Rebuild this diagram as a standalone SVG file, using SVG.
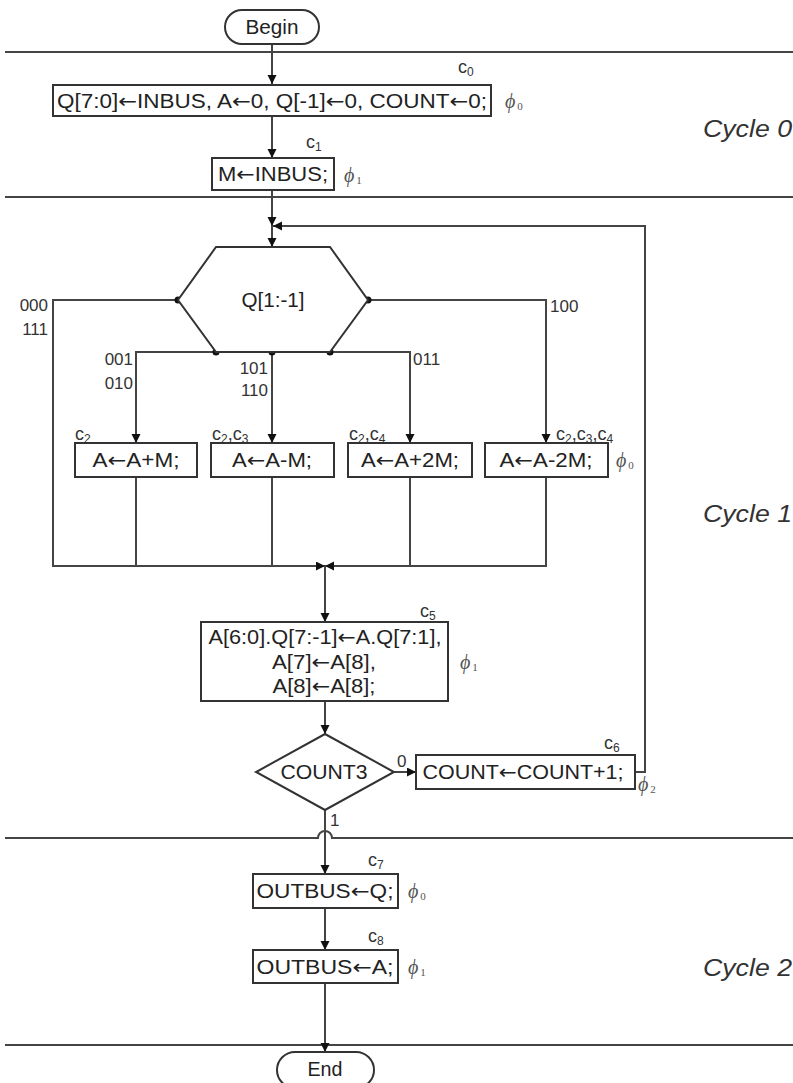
<svg xmlns="http://www.w3.org/2000/svg" width="793" height="1083" viewBox="0 0 793 1083">
<style>
.bg{fill:#fff}
.box{fill:#fff;stroke:#333;stroke-width:2}
.ln{fill:none;stroke:#444;stroke-width:2}
.sep{fill:none;stroke:#444;stroke-width:2}
.t{font-family:"Liberation Sans",Arial,sans-serif;font-size:20px;fill:#222;text-anchor:middle}
.ar{font-family:"DejaVu Sans",sans-serif}
.lbl{font-family:"Liberation Sans",Arial,sans-serif;font-size:17px;fill:#333}
.c{font-family:"Liberation Sans",Arial,sans-serif;font-size:18px;fill:#333}
.sub{font-size:12px}
.phi{font-family:"Liberation Serif","Times New Roman",serif;font-style:italic;font-size:20px;fill:#555}
.psub{font-style:normal;font-size:11px}
.cyc{font-family:"Liberation Sans",Arial,sans-serif;font-style:italic;font-size:24px;fill:#333}
.dot{fill:#111}
</style>
<defs>
<marker id="ah" markerWidth="10" markerHeight="10" refX="9" refY="4.5" orient="auto" markerUnits="userSpaceOnUse">
<path d="M0,0 L9,4.5 L0,9 z" fill="#111"/>
</marker>
</defs>
<rect class="bg" x="0" y="0" width="793" height="1083"/>

<g id="separators">
<path class="sep" d="M5,52 H793"/>
<path class="sep" d="M5,197 H793"/>
<path class="sep" d="M5,838 H318 A7,7 0 0 1 332,838 H793"/>
<path class="sep" d="M5,1045 H793"/>
<text class="cyc" x="703" y="137" textLength="89" lengthAdjust="spacingAndGlyphs">Cycle 0</text>
<text class="cyc" x="703" y="522" textLength="89" lengthAdjust="spacingAndGlyphs">Cycle 1</text>
<text class="cyc" x="703" y="976" textLength="89" lengthAdjust="spacingAndGlyphs">Cycle 2</text>
</g>

<g id="connectors">
<path class="ln" d="M272,44 V84" marker-end="url(#ah)"/>
<path class="ln" d="M272,116 V158" marker-end="url(#ah)"/>
<path class="ln" d="M272,190 V226" marker-end="url(#ah)"/>
<path class="ln" d="M272,226 V247" marker-end="url(#ah)"/>
<path class="ln" d="M635,772 H645 V226 H273" marker-end="url(#ah)"/>
<path class="ln" d="M178,300 H53 V566 H325" marker-end="url(#ah)"/>
<path class="ln" d="M368,300 H546 V443" marker-end="url(#ah)"/>
<path class="ln" d="M216,352 H136 V443" marker-end="url(#ah)"/>
<path class="ln" d="M216,352 H330"/>
<path class="ln" d="M272,352 V443" marker-end="url(#ah)"/>
<path class="ln" d="M330,352 H410 V443" marker-end="url(#ah)"/>
<path class="ln" d="M136,477 V566"/>
<path class="ln" d="M272,477 V566"/>
<path class="ln" d="M410,477 V566"/>
<path class="ln" d="M546,477 V566 H325" marker-end="url(#ah)"/>
<path class="ln" d="M325,566 V622" marker-end="url(#ah)"/>
<path class="ln" d="M325,701 V734" marker-end="url(#ah)"/>
<path class="ln" d="M394,772 H416" marker-end="url(#ah)"/>
<path class="ln" d="M325,810 V874" marker-end="url(#ah)"/>
<path class="ln" d="M325,908 V950" marker-end="url(#ah)"/>
<path class="ln" d="M325,983 V1052" marker-end="url(#ah)"/>
<circle class="dot" cx="178" cy="300" r="3.5"/>
<circle class="dot" cx="368" cy="300" r="3.5"/>
<circle class="dot" cx="216" cy="352" r="3.5"/>
<circle class="dot" cx="272" cy="352" r="3.5"/>
<circle class="dot" cx="330" cy="352" r="3.5"/>
<text class="lbl" x="48" y="311" text-anchor="end">000</text>
<text class="lbl" x="48" y="335" text-anchor="end">111</text>
<text class="lbl" x="133" y="365" text-anchor="end">001</text>
<text class="lbl" x="133" y="389" text-anchor="end">010</text>
<text class="lbl" x="268" y="374" text-anchor="end">101</text>
<text class="lbl" x="268" y="396" text-anchor="end">110</text>
<text class="lbl" x="413" y="365">011</text>
<text class="lbl" x="550" y="312">100</text>
<text class="lbl" x="397" y="767">0</text>
<text class="lbl" x="330" y="826">1</text>
</g>

<g id="begin">
<rect class="box" x="225" y="10" width="94" height="34" rx="17"/>
<text class="t" x="272" y="34" textLength="53" lengthAdjust="spacingAndGlyphs">Begin</text>
</g>

<g id="init">
<rect class="box" x="53" y="85" width="438" height="31"/>
<text class="t" x="272" y="108" textLength="430" lengthAdjust="spacingAndGlyphs">Q[7:0]<tspan class="ar">←</tspan>INBUS, A<tspan class="ar">←</tspan>0, Q[-1]<tspan class="ar">←</tspan>0, COUNT<tspan class="ar">←</tspan>0;</text>
<text class="c" x="458" y="73">c<tspan class="sub" dy="3">0</tspan></text>
<text class="phi" x="505" y="108">ϕ<tspan class="psub" dx="2" dy="2">0</tspan></text>
</g>

<g id="loadM">
<rect class="box" x="212" y="158" width="122" height="32"/>
<text class="t" x="273" y="181" textLength="110" lengthAdjust="spacingAndGlyphs">M<tspan class="ar">←</tspan>INBUS;</text>
<text class="c" x="306" y="148">c<tspan class="sub" dy="3">1</tspan></text>
<text class="phi" x="344" y="182">ϕ<tspan class="psub" dx="2" dy="2">1</tspan></text>
</g>

<g id="decision-q">
<polygon class="box" points="216,247 330,247 368,300 330,352 216,352 178,300"/>
<text class="t" x="273" y="307" textLength="63" lengthAdjust="spacingAndGlyphs">Q[1:-1]</text>
</g>

<g id="addM">
<rect class="box" x="75" y="443" width="122" height="34"/>
<text class="t" x="136" y="467" textLength="87" lengthAdjust="spacingAndGlyphs">A<tspan class="ar">←</tspan>A+M;</text>
<text class="c" x="75" y="440">c<tspan class="sub" dy="3">2</tspan></text>
</g>

<g id="subM">
<rect class="box" x="211" y="443" width="123" height="34"/>
<text class="t" x="272" y="467" textLength="80" lengthAdjust="spacingAndGlyphs">A<tspan class="ar">←</tspan>A-M;</text>
<text class="c" x="212" y="440">c<tspan class="sub" dy="3">2</tspan><tspan dy="-3">,c</tspan><tspan class="sub" dy="3">3</tspan></text>
</g>

<g id="add2M">
<rect class="box" x="348" y="443" width="124" height="34"/>
<text class="t" x="410" y="467" textLength="98" lengthAdjust="spacingAndGlyphs">A<tspan class="ar">←</tspan>A+2M;</text>
<text class="c" x="349" y="440">c<tspan class="sub" dy="3">2</tspan><tspan dy="-3">,c</tspan><tspan class="sub" dy="3">4</tspan></text>
</g>

<g id="sub2M">
<rect class="box" x="485" y="443" width="123" height="34"/>
<text class="t" x="546" y="467" textLength="93" lengthAdjust="spacingAndGlyphs">A<tspan class="ar">←</tspan>A-2M;</text>
<text class="c" x="556" y="440">c<tspan class="sub" dy="3">2</tspan><tspan dy="-3">,c</tspan><tspan class="sub" dy="3">3</tspan><tspan dy="-3">,c</tspan><tspan class="sub" dy="3">4</tspan></text>
<text class="phi" x="616" y="467">ϕ<tspan class="psub" dx="2" dy="2">0</tspan></text>
</g>

<g id="shift">
<rect class="box" x="201" y="622" width="247" height="79"/>
<text class="t" x="325" y="644" textLength="233" lengthAdjust="spacingAndGlyphs">A[6:0].Q[7:-1]<tspan class="ar">←</tspan>A.Q[7:1],</text>
<text class="t" x="324" y="669" textLength="104" lengthAdjust="spacingAndGlyphs">A[7]<tspan class="ar">←</tspan>A[8],</text>
<text class="t" x="324" y="693" textLength="103" lengthAdjust="spacingAndGlyphs">A[8]<tspan class="ar">←</tspan>A[8];</text>
<text class="c" x="420" y="617">c<tspan class="sub" dy="3">5</tspan></text>
<text class="phi" x="460" y="669">ϕ<tspan class="psub" dx="2" dy="2">1</tspan></text>
</g>

<g id="decision-count">
<polygon class="box" points="325,734 394,772 325,810 256,772"/>
<text class="t" x="324" y="779" textLength="87" lengthAdjust="spacingAndGlyphs">COUNT3</text>
</g>

<g id="increment">
<rect class="box" x="416" y="755" width="219" height="34"/>
<text class="t" x="523" y="779" textLength="201" lengthAdjust="spacingAndGlyphs">COUNT<tspan class="ar">←</tspan>COUNT+1;</text>
<text class="c" x="604" y="749">c<tspan class="sub" dy="3">6</tspan></text>
<text class="phi" x="638" y="791">ϕ<tspan class="psub" dx="2" dy="2">2</tspan></text>
</g>

<g id="outQ">
<rect class="box" x="253" y="874" width="145" height="34"/>
<text class="t" x="325" y="898" textLength="137" lengthAdjust="spacingAndGlyphs">OUTBUS<tspan class="ar">←</tspan>Q;</text>
<text class="c" x="368" y="866">c<tspan class="sub" dy="3">7</tspan></text>
<text class="phi" x="408" y="898">ϕ<tspan class="psub" dx="2" dy="2">0</tspan></text>
</g>

<g id="outA">
<rect class="box" x="253" y="950" width="145" height="33"/>
<text class="t" x="325" y="974" textLength="137" lengthAdjust="spacingAndGlyphs">OUTBUS<tspan class="ar">←</tspan>A;</text>
<text class="c" x="368" y="942">c<tspan class="sub" dy="3">8</tspan></text>
<text class="phi" x="408" y="974">ϕ<tspan class="psub" dx="2" dy="2">1</tspan></text>
</g>

<g id="end">
<rect class="box" x="277" y="1052" width="97" height="36" rx="18"/>
<text class="t" x="325" y="1076" textLength="35" lengthAdjust="spacingAndGlyphs">End</text>
</g>
</svg>
